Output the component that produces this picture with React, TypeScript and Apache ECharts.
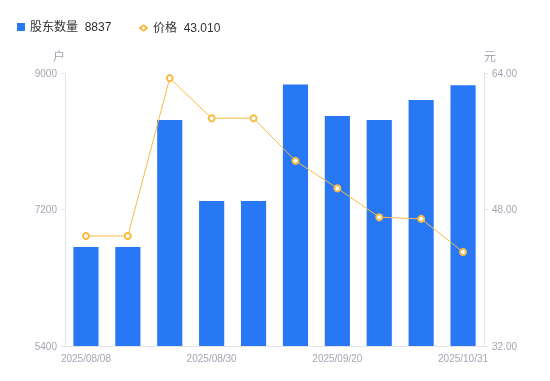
import React, { useEffect, useRef } from "react";
import * as echarts from "echarts";

const categories = [
  "2025/08/08", "2025/08/15", "2025/08/22", "2025/08/30", "2025/09/05",
  "2025/09/12", "2025/09/20", "2025/09/30", "2025/10/20", "2025/10/31",
];
const holders = [6706, 6706, 8381, 7312, 7312, 8850, 8434, 8381, 8645, 8837];
const prices = [44.9, 44.9, 63.4, 58.7, 58.7, 53.7, 50.5, 47.1, 46.9, 43.01];
const leftTicks = { min: 5400, max: 9000, interval: 1800 };
const rightTicks = { min: 32, max: 64, interval: 16 };

export default function App() {
  const ref = useRef<HTMLDivElement>(null);
  useEffect(() => {
    if (!ref.current) return;
    const chart = echarts.init(ref.current, undefined, { renderer: "svg" });
    const gray = "#a3a6b4";
    const axisLineColor = "#e3e4e8";
    const font = "'Liberation Sans', 'Noto Sans CJK SC', sans-serif";
    const lastHolder = holders[holders.length - 1];
    const lastPrice = prices[prices.length - 1];
    const legendText = { color: "#333", fontSize: 12, fontFamily: font };
    chart.setOption({
      animation: false,
      textStyle: { fontFamily: font },
      legend: [
        {
          left: 17,
          top: 21,
          padding: 0,
          itemWidth: 8,
          itemHeight: 8,
          textStyle: legendText,
          formatter: (name: string) => `${name}  ${lastHolder}`,
          data: [{ name: "股东数量", icon: "rect" }],
        },
        {
          left: 138,
          top: 22,
          padding: 0,
          itemWidth: 9,
          itemHeight: 6,
          textStyle: legendText,
          formatter: (name: string) => `${name}  ${lastPrice.toFixed(3)}`,
          data: [{ name: "价格" }],
        },
      ],
      grid: { left: 65, right: 66, top: 73, bottom: 35 },
      xAxis: {
        type: "category",
        data: categories,
        axisLine: { lineStyle: { color: axisLineColor } },
        axisTick: { show: false },
        axisLabel: { color: gray, fontSize: 10, interval: 2, margin: 7 },
      },
      yAxis: [
        {
          type: "value",
          name: "户",
          nameGap: 10,
          nameTextStyle: { color: gray, fontSize: 12, padding: [0, 12, 0, 0] },
          min: leftTicks.min,
          max: leftTicks.max,
          interval: leftTicks.interval,
          axisLine: { show: true, lineStyle: { color: axisLineColor } },
          axisTick: { show: true, length: 4, lineStyle: { color: axisLineColor } },
          axisLabel: { color: gray, fontSize: 10, margin: 8, formatter: (v: number) => String(v) },
          splitLine: { show: false },
        },
        {
          type: "value",
          name: "元",
          nameGap: 10,
          nameTextStyle: { color: gray, fontSize: 12, padding: [0, 0, 0, 12] },
          min: rightTicks.min,
          max: rightTicks.max,
          interval: rightTicks.interval,
          axisLine: { show: true, lineStyle: { color: axisLineColor } },
          axisTick: { show: true, length: 4, lineStyle: { color: axisLineColor } },
          axisLabel: { color: gray, fontSize: 10, margin: 8, formatter: (v: number) => v.toFixed(2) },
          splitLine: { show: false },
        },
      ],
      series: [
        {
          name: "股东数量",
          type: "bar",
          data: holders,
          barWidth: "60%",
          itemStyle: { color: "#2878F5" },
        },
        {
          name: "价格",
          type: "line",
          yAxisIndex: 1,
          data: prices,
          symbol: "emptyCircle",
          symbolSize: 6,
          lineStyle: { color: "#F9BB45", width: 1 },
          itemStyle: { color: "#F9BB45", borderWidth: 2 },
        },
      ],
    });
    return () => chart.dispose();
  }, []);
  return (
    <div
      ref={ref}
      style={{ position: "fixed", left: 0, top: 0, width: 550, height: 381 }}
    />
  );
}
